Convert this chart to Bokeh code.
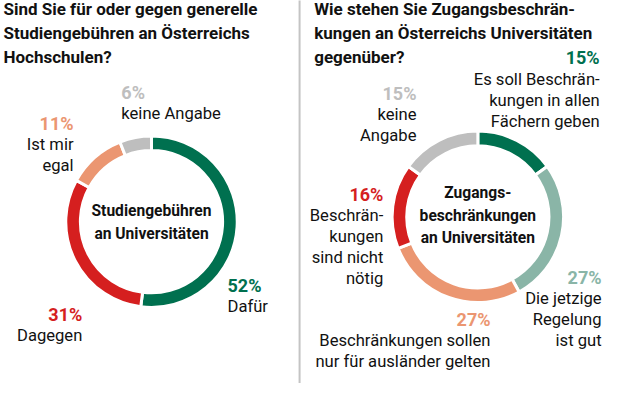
import numpy as np
from bokeh.plotting import figure
from bokeh.models import Range1d
from bokeh.core.properties import value
from bokeh.embed import file_html
from bokeh.resources import INLINE

# ---------------- data ----------------
left_title = ["Sind Sie für oder gegen generelle",
              "Studiengebühren an Österreichs",
              "Hochschulen?"]
left_center = ["Studiengebühren", "an Universitäten"]
left_labels = [["Dafür"], ["Dagegen"], ["Ist mir", "egal"], ["keine Angabe"]]
left_values = [52, 31, 11, 6]

right_title = ["Wie stehen Sie Zugangsbeschrän-",
               "kungen an Österreichs Universitäten",
               "gegenüber?"]
right_center = ["Zugangs-", "beschränkungen", "an Universitäten"]
right_labels = [["Es soll Beschrän-", "kungen in allen", "Fächern geben"],
                ["Die jetzige", "Regelung", "ist gut"],
                ["Beschränkungen sollen", "nur für ausländer gelten"],
                ["Beschrän-", "kungen", "sind nicht", "nötig"],
                ["keine", "Angabe"]]
right_values = [15, 27, 27, 16, 15]

GREEN = "#00704f"
RED = "#d51f1f"
ORANGE = "#eb9671"
GRAY = "#bebebe"
TEAL = "#8ab5a7"
left_colors = [GREEN, RED, ORANGE, GRAY]
right_colors = [GREEN, TEAL, ORANGE, RED, GRAY]

FONT = "Roboto"
S = 604 / 620.0  # px per reference px


def Y(y):
    return 396 - y


def fs(px):
    return f"{px * S:.1f}px"


p = figure(width=604, height=383, output_backend="svg", toolbar_location=None,
           x_range=Range1d(0, 620), y_range=Range1d(0, 393), min_border=0)
p.axis.visible = False
p.grid.visible = False
p.outline_line_color = None
p.background_fill_color = "white"

# divider
p.segment(x0=[307], y0=[Y(-5)], x1=[307], y1=[Y(405)], line_color="#c4c4c4", line_width=2)


def donut(cx, cy, vals, colors):
    v = np.array(vals, dtype=float)
    frac = v / v.sum()
    cum = np.concatenate([[0], np.cumsum(frac)])
    start = np.pi / 2 - 2 * np.pi * cum[:-1]
    end = np.pi / 2 - 2 * np.pi * cum[1:]
    p.annular_wedge(x=[cx] * len(v), y=[Y(cy)] * len(v), inner_radius=73, outer_radius=88,
                    start_angle=start, end_angle=end, direction="clock",
                    fill_color=colors, line_color="white", line_width=3)


donut(155, 230, left_values, left_colors)
donut(490, 225, right_values, right_colors)


def lines(x, y0, txts, align, size, bold=False, color="#111111", step=21.5):
    ys = [Y(y0 + i * step) for i in range(len(txts))]
    p.text(x=[x] * len(txts), y=ys, text=txts, text_align=align, text_baseline="middle",
           text_font=value(FONT), text_font_size=fs(size),
           text_font_style="bold" if bold else "normal", text_color=color)


# titles
lines(3, 12, left_title, "left", 17.5, bold=True, step=24.5)
lines(322, 12, right_title, "left", 17.5, bold=True, step=24.5)

# centers
lines(155, 219, left_center, "center", 16, bold=True, step=24)
lines(490, 201, right_center, "center", 16, bold=True, step=23)


def label(x, y, pct, color, txts, align):
    lines(x, y, [f"{pct}%"], align, 18.5, bold=True, color=color)
    lines(x, y + 22, txts, align, 17)


# left labels
label(233, 295, left_values[0], GREEN, left_labels[0], "left")
label(84, 325, left_values[1], RED, left_labels[1], "right")
label(75, 129, left_values[2], ORANGE, left_labels[2], "right")
label(124, 97, left_values[3], GRAY, left_labels[3], "left")

# right labels
label(615, 62, right_values[0], GREEN, right_labels[0], "right")
label(617, 287, right_values[1], TEAL, right_labels[1], "right")
label(503, 330, right_values[2], ORANGE, right_labels[2], "right")
label(393, 202, right_values[3], RED, right_labels[3], "right")
label(427, 98, right_values[4], GRAY, right_labels[4], "right")

open("out.html", "w").write(file_html(p, INLINE))
